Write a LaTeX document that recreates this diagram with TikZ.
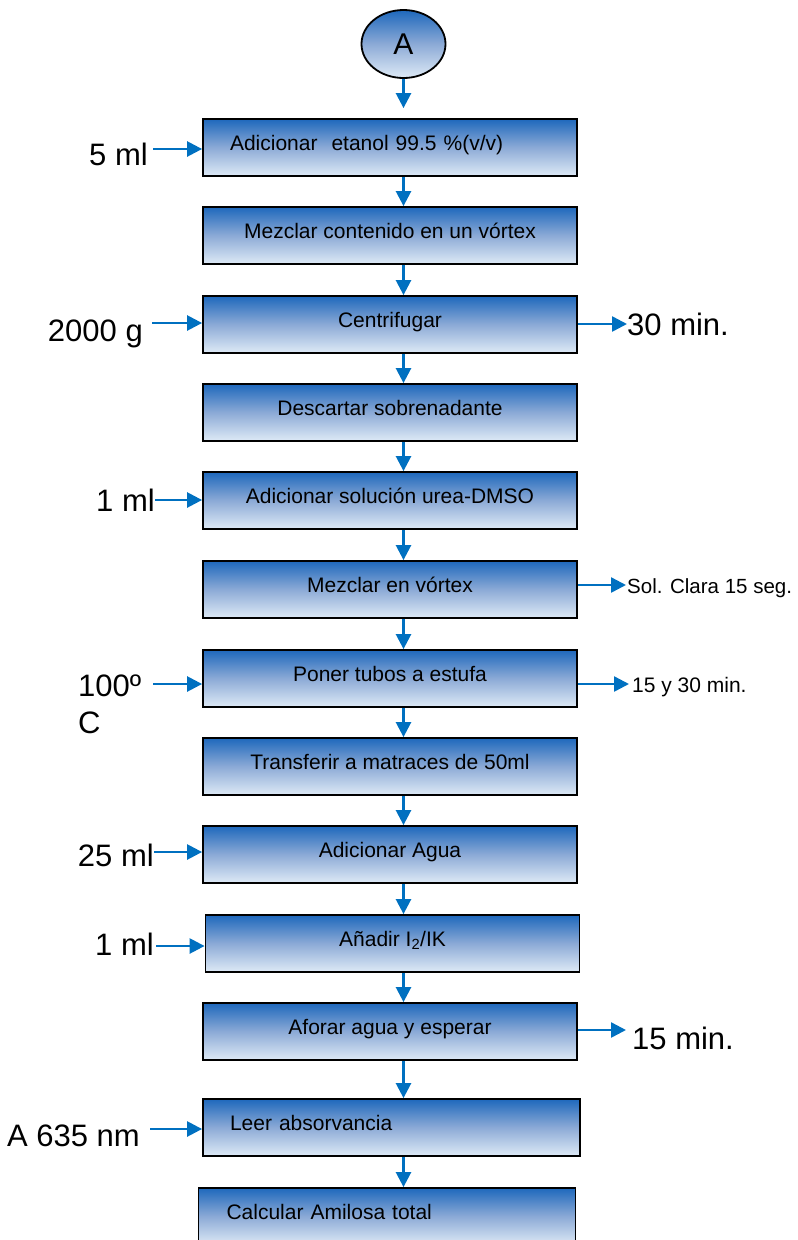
\documentclass[tikz,border=0pt]{standalone}
\usepackage{fontspec}
\setmainfont{Liberation Sans}
\usetikzlibrary{arrows.meta,shapes.geometric}
\definecolor{flowblue}{RGB}{0,112,192}
\definecolor{boxtop}{RGB}{30,104,188}
\definecolor{boxmid}{RGB}{140,170,214}
\definecolor{boxbot}{RGB}{222,234,246}
\tikzset{
  fillgrad/.style={top color=boxtop, bottom color=boxbot, middle color=boxmid},
  stepbox/.style={draw=black, line width=1.8pt, fillgrad,
    minimum width=374pt, minimum height=57pt, inner sep=0pt,
    text height=15pt, text depth=10pt, font=\fontsize{21}{25}\selectfont},
  leftbox/.style={stepbox, text width=320pt, align=left, inner xsep=27pt},
  flow/.style={draw=flowblue, line width=2.5pt, -{Triangle[length=15pt,width=15pt]}},
  side/.style={font=\fontsize{31}{37}\selectfont, inner sep=0pt},
  midside/.style={font=\fontsize{21}{25}\selectfont, inner sep=0pt},
  smallside/.style={font=\fontsize{20.5}{24}\selectfont, inner sep=0pt},
}
\begin{document}
\begin{tikzpicture}[x=1pt,y=-1pt]
\useasboundingbox (0,0) rectangle (798,1240);
\clip (0,0) rectangle (798,1240);

% start connector
\node[draw=black, line width=1.8pt, ellipse, fillgrad, minimum width=84pt,
  minimum height=68pt, inner sep=0pt, font=\fontsize{30}{36}\selectfont] (A) at (403.5,44) {A};

% process steps
\node[leftbox]  (b1)  at (390,147.5)  {Adicionar\ \ etanol 99.5 \%(v/v)};
\node[stepbox]  (b2)  at (390,235.5)  {Mezclar contenido en un vórtex};
\node[stepbox]  (b3)  at (390,324.5)  {Centrifugar};
\node[stepbox]  (b4)  at (390,412.5)  {Descartar sobrenadante};
\node[stepbox]  (b5)  at (390,500.5)  {Adicionar solución urea-DMSO};
\node[stepbox]  (b6)  at (390,589.5)  {Mezclar en vórtex};
\node[stepbox]  (b7)  at (390,678.5)  {Poner tubos a estufa};
\node[stepbox]  (b8)  at (390,766.5)  {Transferir a matraces de 50ml};
\node[stepbox]  (b9)  at (390,854.5)  {Adicionar Agua};
\node[stepbox]  (b10) at (392.5,943.5) {Añadir I\textsubscript{2}/IK};
\node[stepbox]  (b11) at (390,1031.5) {Aforar agua y esperar};
\node[leftbox, minimum width=377pt, text width=323pt] (b12) at (391.5,1127.5) {Leer absorvancia};
\node[leftbox, minimum width=376pt, text width=321pt, inner xsep=28pt] (b13) at (387,1216.5) {Calcular Amilosa total};

% main flow
\draw[flow, shorten >=10pt] (A.south) -- (b1.north -| A);
\foreach \a/\b in {b1/b2,b2/b3,b3/b4,b4/b5,b5/b6,b6/b7,b7/b8,b8/b9,b9/b10,b10/b11,b11/b12,b12/b13}
  \draw[flow] (\a.south -| A) -- (\b.north -| A);

% inputs on the left
\node[side, anchor=base east] (l1) at (148,165) {5 ml};
\node[side, anchor=base east] (l3) at (143,341) {2000 g};
\node[side, anchor=base east] (l5) at (155,511) {1 ml};
\node[side, anchor=north west, align=left] (l7) at (78,675) {100º\\C};
\node[side, anchor=base east] (l9) at (154,866) {25 ml};
\node[side, anchor=base east] (l10) at (154,955) {1 ml};
\node[side, anchor=base east] (l12) at (140,1146) {A 635 nm};

\coordinate (p1) at (153,149);
\coordinate (p3) at (152,323);
\coordinate (p5) at (155,500);
\coordinate (p7) at (153,684);
\coordinate (p9) at (154,852);
\coordinate (p10) at (156,946);
\coordinate (p12) at (150,1129);
\foreach \p/\b in {p1/b1,p3/b3,p5/b5,p7/b7,p9/b9,p10/b10,p12/b12}
  \draw[flow] (\p) -- (\p -| \b.west);

% conditions on the right
\node[side, anchor=base west] (r3) at (627,335) {30 min.};
\node[smallside, anchor=base west] (r6) at (627,593) {Sol. Clara 15 seg.};
\node[midside, anchor=base west] (r7) at (632,692) {15 y 30 min.};
\node[side, anchor=base west] (r11) at (632,1049) {15 min.};

\coordinate (q3) at (627,324);
\coordinate (q6) at (626,585);
\coordinate (q7) at (629,684);
\coordinate (q11) at (626,1030);
\foreach \q/\b in {q3/b3,q6/b6,q7/b7,q11/b11}
  \draw[flow] (\q -| \b.east) -- (\q);
\end{tikzpicture}
\end{document}
